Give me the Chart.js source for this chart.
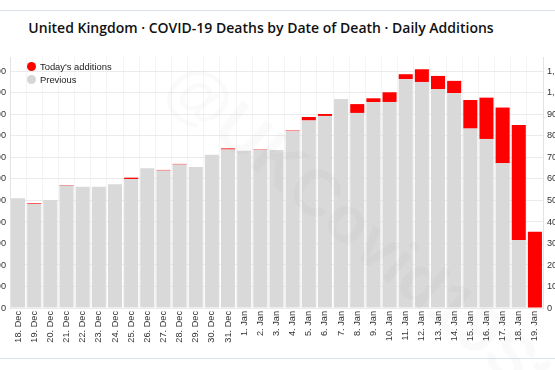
<!DOCTYPE html>
<html>
<head>
<meta charset="utf-8">
<script src="https://cdn.jsdelivr.net/npm/chart.js@4/dist/chart.umd.min.js"></script>
<style>
  body { margin: 0; background: #fff; }
  #wrap { position: relative; width: 555px; height: 370px; overflow: hidden; background: #fff; font-family: "Liberation Sans", Arial, sans-serif; }
  .frame { position: absolute; left: 0; width: 555px; height: 0; border-top: 1.5px solid #dbe2ea; }
  #title { position: absolute; top: 18px; left: 0; width: 522px; text-align: center; font-family: "Open Sans", sans-serif; font-weight: 600; font-size: 14px; color: #111; white-space: nowrap; }
  #chart { position: absolute; left: -30px; top: 0; }
  .legend { position: absolute; left: 27px; font-size: 9.4px; color: #222; white-space: nowrap; }
  .legend span { display: inline-block; width: 9px; height: 9px; border-radius: 50%; vertical-align: -1px; margin-right: 4px; }
  #mark { position: absolute; left: 200px; top: 45px; font-size: 66px; font-weight: bold; color: rgba(0,0,0,0.018); transform-origin: 0 0; transform: rotate(40deg); white-space: nowrap; pointer-events: none; }
</style>
</head>
<body>
<div id="wrap">
  <div class="frame" style="top:10px"></div>
  <div class="frame" style="top:358px"></div>
  <div id="title">United Kingdom · COVID-19 Deaths by Date of Death · Daily Additions</div>
  <canvas id="chart" width="613" height="350"></canvas>
  <div class="legend" style="top:61px"><span style="background:#ff0000"></span>Today's additions</div>
  <div class="legend" style="top:74px"><span style="background:#d6d6d6"></span>Previous</div>
  <div id="mark">@UKCovid19Stats</div>
</div>
<script>
// dane z wykresu
var days = ["18. Dec", "19. Dec", "20. Dec", "21. Dec", "22. Dec", "23. Dec", "24. Dec",
  "25. Dec", "26. Dec", "27. Dec", "28. Dec", "29. Dec", "30. Dec", "31. Dec",
  "1. Jan", "2. Jan", "3. Jan", "4. Jan", "5. Jan", "6. Jan", "7. Jan", "8. Jan",
  "9. Jan", "10. Jan", "11. Jan", "12. Jan", "13. Jan", "14. Jan", "15. Jan",
  "16. Jan", "17. Jan", "18. Jan", "19. Jan"];

var previous = [510, 484, 502, 569, 564, 564, 575, 600, 650, 639, 667, 656, 712, 737,
  731, 736, 735, 822, 872, 893, 972, 907, 957, 958, 1064, 1051, 1017, 999, 834,
  786, 673, 316, 0];

var additions = [0, 3, 0, 3, 0, 0, 0, 6, 0, 3, 3, 0, 0, 5,
  0, 2, 0, 3, 16, 9, 0, 41, 18, 45, 23, 59, 62, 57, 133,
  192, 259, 535, 355];

var yMax = 1167;
var yStep = 100;

var tickFont = { family: "'Liberation Sans', Arial, sans-serif", size: 9.2 };

function fmt(v) {
  return Number(v).toLocaleString("en-US");
}

function onlyRound(scale) {
  scale.ticks = scale.ticks.filter(function(t) {
    return t.value % yStep === 0;
  });
}

function yAxis(pos, grid) {
  return {
    position: pos,
    stacked: true,
    min: 0,
    max: yMax,
    afterBuildTicks: onlyRound,
    afterFit: function(scale) { scale.width = 40; },
    border: { color: "#e3e3e3" },
    grid: { drawOnChartArea: grid, drawTicks: false, color: "#ebebeb" },
    ticks: { stepSize: yStep, padding: 4, color: "#333", font: tickFont, callback: fmt }
  };
}

new Chart(document.getElementById("chart"), {
  type: "bar",
  data: {
    labels: days,
    datasets: [
      {
        label: "Previous",
        backgroundColor: "#d9d9d9",
        data: previous
      },
      {
        label: "Today's additions",
        backgroundColor: "#ff0000",
        data: additions
      }
    ]
  },
  options: {
    responsive: false,
    animation: false,
    devicePixelRatio: 1,
    barPercentage: 1,
    categoryPercentage: 0.87,
    layout: { padding: { top: 57, left: 0, right: 0, bottom: 0 } },
    plugins: {
      legend: { display: false },
      tooltip: { enabled: false }
    },
    scales: {
      x: {
        stacked: true,
        afterFit: function(scale) { scale.height = 42; },
        border: { display: false },
        grid: { color: "#f4f4f4", drawTicks: false, offset: true },
        ticks: { minRotation: 90, maxRotation: 90, padding: 3, color: "#333", font: tickFont, autoSkip: false }
      },
      y: yAxis("left", true),
      y1: yAxis("right", false)
    }
  }
});
</script>
</body>
</html>
